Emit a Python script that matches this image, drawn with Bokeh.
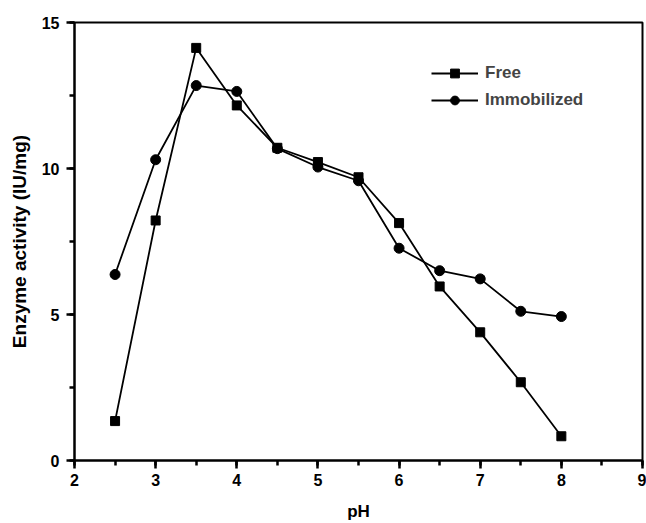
from bokeh.plotting import figure
from bokeh.embed import file_html
from bokeh.resources import INLINE
from bokeh.models import SingleIntervalTicker, Range1d

ph = [2.5, 3.0, 3.5, 4.0, 4.5, 5.0, 5.5, 6.0, 6.5, 7.0, 7.5, 8.0]
free = [1.35, 8.22, 14.13, 12.16, 10.71, 10.22, 9.70, 8.13, 5.96, 4.39, 2.68, 0.83]
immobilized = [6.37, 10.30, 12.84, 12.64, 10.68, 10.05, 9.58, 7.27, 6.50, 6.22, 5.11, 4.93]
x_start, x_end, x_step = 2, 9, 1
y_start, y_end, y_step = 0, 15, 5

FONT = "Liberation Sans"

p = figure(width=646, height=523, output_backend="svg", toolbar_location=None,
           x_range=Range1d(x_start, x_end), y_range=Range1d(y_start, y_end),
           min_border_left=74, min_border_right=4, min_border_top=22, min_border_bottom=63)

p.line(ph, free, line_color="black", line_width=1.8, legend_label="Free")
p.scatter(ph, free, marker="square", size=9, fill_color="black", line_color="black", legend_label="Free")
p.line(ph, immobilized, line_color="black", line_width=1.8, legend_label="Immobilized")
p.scatter(ph, immobilized, marker="circle", size=10, fill_color="black", line_color="black", legend_label="Immobilized")

p.grid.visible = False
p.outline_line_color = "black"
p.outline_line_width = 2
p.outline_line_alpha = 1

p.xaxis.ticker = SingleIntervalTicker(interval=x_step, num_minor_ticks=2)
p.yaxis.ticker = SingleIntervalTicker(interval=y_step, num_minor_ticks=2)

for ax in p.axis:
    ax.axis_line_width = 2
    ax.axis_line_color = "black"
    ax.major_tick_line_width = 2.5
    ax.major_tick_line_color = "black"
    ax.minor_tick_line_width = 2.5
    ax.minor_tick_line_color = "black"
    ax.major_tick_out = 8
    ax.major_tick_in = 0
    ax.minor_tick_out = 5
    ax.minor_tick_in = 0
    ax.major_label_text_font = FONT
    ax.major_label_text_font_style = "bold"
    ax.major_label_text_font_size = "16px"
    ax.major_label_text_color = "black"
    ax.axis_label_text_font = FONT
    ax.axis_label_text_font_style = "bold"
    ax.axis_label_text_color = "black"

p.xaxis.axis_label = "pH"
p.yaxis.axis_label = "Enzyme activity (IU/mg)"
p.xaxis.axis_label_text_font_size = "17px"
p.yaxis.axis_label_text_font_size = "19px"
p.xaxis.major_label_standoff = 5
p.yaxis.major_label_standoff = 7
p.xaxis.axis_label_standoff = 13
p.yaxis.axis_label_standoff = 9

lg = p.legend[0]
lg.location = (357, 349)
lg.border_line_color = None
lg.background_fill_alpha = 0
lg.margin = 0
lg.padding = 0
lg.glyph_width = 47
lg.glyph_height = 22
lg.label_height = 22
lg.spacing = 5
lg.label_standoff = 7
lg.label_text_font = FONT
lg.label_text_font_style = "bold"
lg.label_text_font_size = "17px"

open("out.html", "w").write(file_html(p, INLINE))
